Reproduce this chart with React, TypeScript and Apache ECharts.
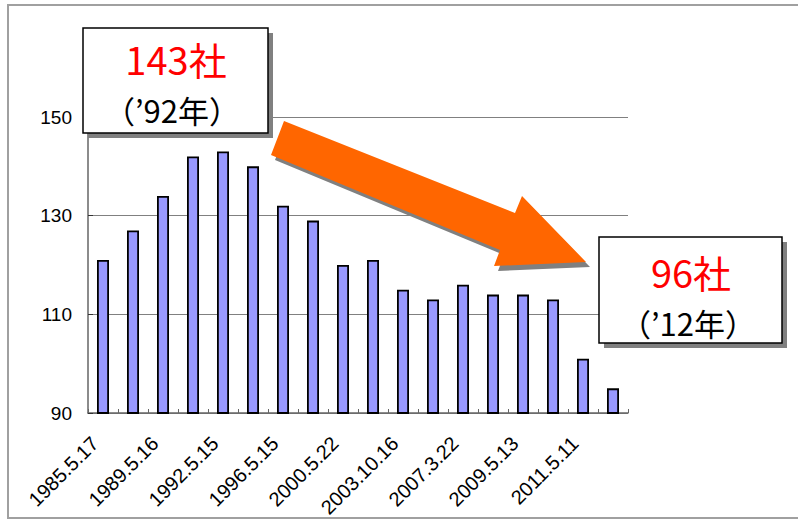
import React, { useEffect, useRef } from "react";
import * as echarts from "echarts";

const categories = [
  "1985.5.17", "", "1989.5.16", "", "1992.5.15", "", "1996.5.15", "",
  "2000.5.22", "", "2003.10.16", "", "2007.3.22", "", "2009.5.13", "",
  "2011.5.11", "",
];
const companies = [121, 127, 134, 142, 143, 140, 132, 129, 120, 121, 115, 113, 116, 114, 114, 113, 101, 95];
const yMin = 90;
const yMax = 150;
const yStep = 20;

const peakCount = "143社";
const peakYear = "（’92年）";
const lastCount = "96社";
const lastYear = "（’12年）";

const arrowPts: number[][] = [
  [284, 121], [515, 213], [522, 196], [586, 262], [494, 266], [500, 250], [271, 155],
];

export default function App() {
  const ref = useRef<HTMLDivElement>(null);
  useEffect(() => {
    if (!ref.current) return;
    const chart = echarts.init(ref.current, undefined, { renderer: "svg" });
    const shadowPts = arrowPts.map(([x, y]) => [x + 4, y + 5]);
    const cjk = '"Noto Sans CJK JP", "Noto Sans", sans-serif';
    const latin = '"Liberation Sans", Arial, sans-serif';
    chart.setOption({
      animation: false,
      backgroundColor: "#fff",
      grid: [
        { left: 88, right: 170, top: 117, bottom: 107, containLabel: false },
        { left: 80, right: 178, top: 117, bottom: 107, containLabel: false },
      ],
      xAxis: [
        {
          type: "category",
          gridIndex: 0,
          data: categories,
          boundaryGap: true,
          axisLine: { show: true, lineStyle: { color: "#666", width: 1.5 } },
          axisTick: { show: true, inside: true, length: 4, interval: 0, lineStyle: { color: "#666" } },
          axisLabel: { show: false },
          splitLine: { show: false },
        },
        {
          type: "category",
          gridIndex: 1,
          data: categories,
          boundaryGap: true,
          axisLine: { show: false },
          axisTick: { show: false },
          axisLabel: {
            interval: 1,
            rotate: 45,
            margin: 35,
            color: "#000",
            fontSize: 20,
            fontFamily: latin,
          },
          splitLine: { show: false },
        },
      ],
      yAxis: [
        {
          type: "value",
          gridIndex: 0,
          min: yMin,
          max: yMax,
          interval: yStep,
          axisLine: { show: true, lineStyle: { color: "#666", width: 1.5 } },
          axisTick: { show: true, inside: true, length: 5, lineStyle: { color: "#333" } },
          axisLabel: { color: "#000", fontSize: 19, margin: 16, fontFamily: latin },
          splitLine: { show: true, lineStyle: { color: "#808080", width: 1 } },
        },
        {
          type: "value",
          gridIndex: 1,
          min: yMin,
          max: yMax,
          interval: yStep,
          show: false,
          splitLine: { show: false },
        },
      ],
      series: [
        {
          type: "bar",
          xAxisIndex: 0,
          yAxisIndex: 0,
          data: companies,
          barWidth: 12,
          itemStyle: { color: "#9999FF", borderColor: "#000", borderWidth: 1.8 },
        },
      ],
      graphic: [
        {
          type: "rect",
          z: 1,
          silent: true,
          shape: { x: 8, y: 5, width: 800, height: 513 },
          style: { fill: "none", stroke: "#a0a0a0", lineWidth: 2 },
        },
        { type: "polygon", z: 10, shape: { points: shadowPts }, style: { fill: "#808080" } },
        { type: "polygon", z: 11, shape: { points: arrowPts }, style: { fill: "#FF6600" } },
        { type: "rect", z: 12, shape: { x: 88, y: 33, width: 185, height: 105 }, style: { fill: "#808080" } },
        {
          type: "rect",
          z: 13,
          shape: { x: 83, y: 28, width: 185, height: 105 },
          style: { fill: "#fff", stroke: "#000", lineWidth: 1.5 },
        },
        {
          type: "text",
          z: 14,
          x: 176,
          y: 58,
          style: { text: peakCount, fill: "#FF0000", font: `38px ${cjk}`, textAlign: "center", textVerticalAlign: "middle" },
        },
        {
          type: "text",
          z: 14,
          x: 172,
          y: 109,
          style: { text: peakYear, fill: "#000", font: `31px ${cjk}`, textAlign: "center", textVerticalAlign: "middle" },
        },
        { type: "rect", z: 12, shape: { x: 604, y: 242, width: 183, height: 106 }, style: { fill: "#808080" } },
        {
          type: "rect",
          z: 13,
          shape: { x: 599, y: 237, width: 183, height: 106 },
          style: { fill: "#fff", stroke: "#000", lineWidth: 1.5 },
        },
        {
          type: "text",
          z: 14,
          x: 691,
          y: 271,
          style: { text: lastCount, fill: "#FF0000", font: `38px ${cjk}`, textAlign: "center", textVerticalAlign: "middle" },
        },
        {
          type: "text",
          z: 14,
          x: 688,
          y: 322,
          style: { text: lastYear, fill: "#000", font: `31px ${cjk}`, textAlign: "center", textVerticalAlign: "middle" },
        },
      ],
    });
    return () => chart.dispose();
  }, []);
  return (
    <div
      ref={ref}
      style={{ position: "fixed", left: 0, top: 0, width: 798, height: 520, background: "#fff" }}
    />
  );
}
